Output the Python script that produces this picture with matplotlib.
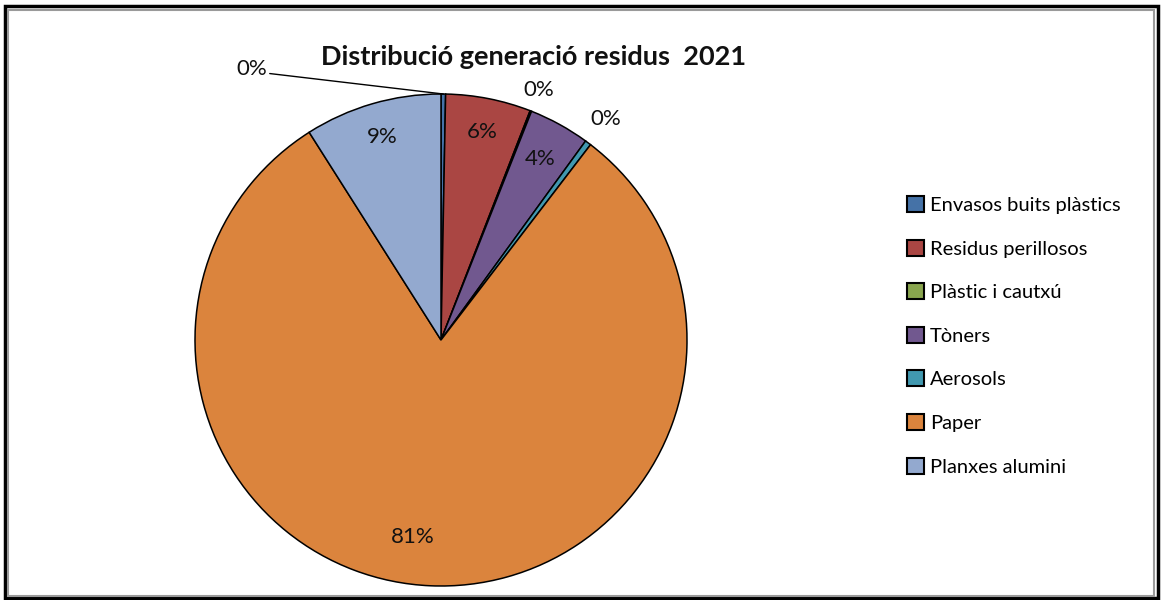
import matplotlib.pyplot as plt
from matplotlib.patches import Rectangle
import numpy as np

# ---------------- data ----------------
categories = ['Envasos buits plàstics', 'Residus perillosos', 'Plàstic i cautxú',
              'Tòners', 'Aerosols', 'Paper', 'Planxes alumini']
shares = [0.3, 5.6, 0.1, 4.0, 0.4, 80.6, 9.0]
pct_labels = ['0%', '6%', '0%', '4%', '0%', '81%', '9%']
title = 'Distribució generació residus  2021'

colors = ['#4572A7', '#AA4643', '#89A54E', '#71588F', '#4198AF', '#DB843D', '#93A9CF']
# radial distance and angular nudge (deg) of each percentage label
label_dist = [None, 0.86, 1.09, 0.84, 1.12, 0.81, 0.86]
label_nudge = [0, 0, 0, 0, 0, -5.5, 0]

plt.rcParams['font.family'] = ['Lato', 'DejaVu Sans']

W, H = 1163, 600
fig = plt.figure(figsize=(W / 100, H / 100), dpi=100)

# frame around the chart
fig.patches.append(Rectangle((5 / W, 2 / H), 1153 / W, 592 / H, transform=fig.transFigure,
                             fill=False, ec='black', lw=2.5))
fig.patches.append(Rectangle((8 / W, 4 / H), 1146 / W, 586 / H, transform=fig.transFigure,
                             fill=False, ec='#9a9a9a', lw=1.5))

cx, cy, R = 441, 340, 246
ax = fig.add_axes([(cx - R) / W, (H - cy - R) / H, 2 * R / W, 2 * R / H])
wedges, _ = ax.pie(shares, colors=colors, startangle=90, counterclock=False,
                   wedgeprops=dict(edgecolor='black', linewidth=1.1))
ax.set_xlim(-1, 1)
ax.set_ylim(-1, 1)
ax.set_aspect('equal')

for i, w in enumerate(wedges):
    mid = np.deg2rad((w.theta1 + w.theta2) / 2 + label_nudge[i])
    if label_dist[i] is None:
        ax.annotate(pct_labels[i], xy=(np.cos(mid), np.sin(mid)), xytext=(-0.77, 1.10),
                    ha='center', va='center', fontsize=16, color='#111111',
                    arrowprops=dict(arrowstyle='-', color='black', lw=1,
                                    shrinkA=0, shrinkB=0, relpos=(1.05, 0.3)))
    else:
        r = label_dist[i]
        ax.text(r * np.cos(mid), r * np.sin(mid), pct_labels[i], ha='center', va='center',
                fontsize=16, color='#111111')

fig.text(534 / W, 1 - 57 / H, title, ha='center', va='center', fontsize=19.5,
         fontweight='bold', color='#111111')

leg = fig.legend(wedges, categories, loc='upper left', bbox_to_anchor=(899 / W, 1 - 188 / H),
                 frameon=False, fontsize=14.5, handlelength=0.85, handleheight=0.85,
                 handletextpad=0.3, labelspacing=1.27, borderaxespad=0)
for h in leg.legend_handles:
    h.set_linewidth(1.5)

fig.savefig('out.png', dpi=100)
